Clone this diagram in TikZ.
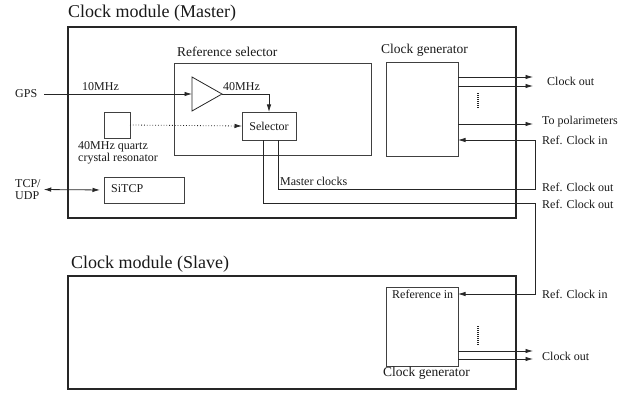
\documentclass[tikz,border=0pt]{standalone}
\usepackage{fontspec}
\setmainfont{Liberation Serif}
\usetikzlibrary{arrows.meta}
\begin{document}
\begin{tikzpicture}[x=1pt,y=-1pt,
  module/.style={draw=black!85, line width=2pt, inner sep=0, outer sep=0, anchor=north west},
  box/.style={draw=black!75, line width=0.8pt, inner sep=0, outer sep=0, anchor=north west},
  txt/.style={inner sep=0, anchor=west, align=left, font=\rmfamily\fontsize{12}{12.5}\selectfont, text=black!90},
  head/.style={txt, font=\rmfamily\fontsize{13.5}{15}\selectfont},
  title/.style={txt, font=\rmfamily\fontsize{18}{20}\selectfont},
  wire/.style={draw=black!85, line width=0.8pt},
  arr/.style={wire, -{Latex[length=7.5pt,width=4.5pt]}},
  darr/.style={wire, {Latex[length=7.5pt,width=4.5pt]}-{Latex[length=7.5pt,width=4.5pt]}},
  dots/.style={draw=black!85, line width=1.3pt, dash pattern=on 1pt off 1pt}
]
\useasboundingbox (0,0) rectangle (639,393);

% ---------- master module ----------
\node[title] (tmaster) at (68,13) {Clock module (Master)};
\node[module, minimum width=448pt, minimum height=191pt] (master) at (68,27) {};

\node[head] (trefsel) at (177,52) {Reference selector};
\node[box, minimum width=197pt, minimum height=92pt] (refsel) at (174,63) {};
\node[box, minimum width=54pt, minimum height=28pt, font=\rmfamily\fontsize{12}{12.5}\selectfont, text=black!90] (sel) at (242,112) {Selector};

% amplifier
\draw[wire] (192,77) -- (222,94) -- (192,111) -- cycle;
\coordinate (ampin) at (192,94);
\coordinate (ampout) at (222,94);

\node[box, minimum width=26pt, minimum height=26pt] (xtal) at (104,112) {};
\node[txt] (txtal) at (78,153) {40MHz quartz\\crystal resonator};

\node[box, minimum width=80pt, minimum height=26pt] (sitcp) at (104,177) {};
\node[txt] (tsitcp) at (111,189) {SiTCP};

\node[head] (tcgm) at (381,50) {Clock generator};
\node[box, minimum width=72pt, minimum height=94pt] (cgm) at (386,62) {};

% external labels
\node[txt] (gps) at (15,94) {GPS};
\node[txt] (tcp) at (15,189.5) {TCP/\\UDP};
\node[txt] (t10) at (82,87) {10MHz};
\node[txt] (t40) at (223,87) {40MHz};
\node[txt] (tmc) at (280,181) {Master clocks};
\node[txt] (tco1) at (547,81) {Clock out};
\node[txt] (tpol) at (542,122) {To polarimeters};
\node[txt] (trci1) at (542,140) {Ref. Clock in};
\node[txt] (trco1) at (542,187) {Ref. Clock out};
\node[txt] (trco2) at (542,204) {Ref. Clock out};

% routing points
\coordinate (co1) at (533,77);
\coordinate (co2) at (533,86);
\coordinate (pol) at (533,124);
\coordinate (ri1) at (535,140);
\coordinate (mc) at (278,189);
\coordinate (rl1) at (535,189);
\coordinate (ro) at (263,203);
\coordinate (rl2) at (535,203);
\coordinate (ri2) at (535,294);
\coordinate (co3) at (533,351);
\coordinate (co4) at (533,359);

% master connectors
\draw[arr, shorten <=7pt] (gps.east) -- (ampin);
\draw[arr] (ampout) -| (sel.north);
\draw[arr, dotted] (xtal.east) -- (sel.west);
\draw[darr, shorten <=3pt, shorten >=4pt] (tcp.east) -- (sitcp.west);
\draw[arr] (cgm.east |- co1) -- (co1);
\draw[arr] (cgm.east |- co2) -- (co2);
\draw[arr] (cgm.east |- pol) -- (pol);
\draw[dots] (478,93) -- (478,109);
\draw[arr] (sel.south -| mc) -- (mc) -- (rl1) -- (ri1) -- (cgm.east |- ri1);

% ---------- slave module ----------
\node[title] (tslave) at (71,264) {Clock module (Slave)};
\node[module, minimum width=448pt, minimum height=113pt] (slave) at (68,276) {};
\node[box, minimum width=72pt, minimum height=79pt] (cgs) at (386,287) {};
\node[txt] (trefin) at (392,294) {Reference in};
\node[head] (tcgs) at (383,373) {Clock generator};
\node[txt] (trci2) at (542,294) {Ref. Clock in};
\node[txt] (tco2) at (542,356) {Clock out};

\draw[arr] (sel.south -| ro) -- (ro) -- (rl2) -- (ri2) -- (cgs.east |- ri2);
\draw[arr] (cgs.east |- co3) -- (co3);
\draw[arr] (cgs.east |- co4) -- (co4);
\draw[dots] (478,326) -- (478,346);
\end{tikzpicture}
\end{document}
